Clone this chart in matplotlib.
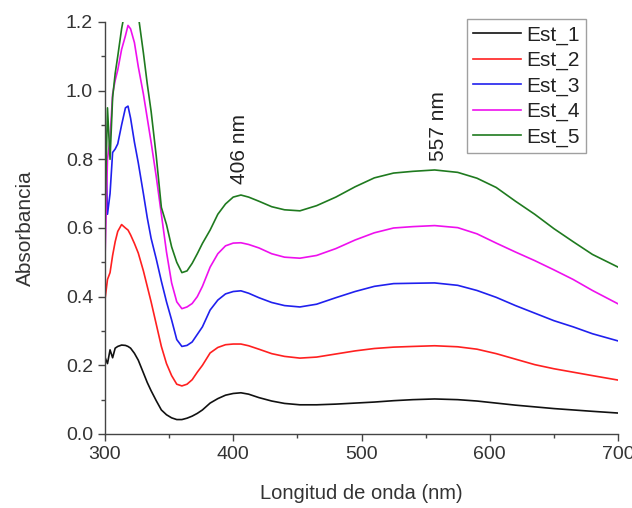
import matplotlib
matplotlib.use('Agg')
import matplotlib.pyplot as plt
from matplotlib.ticker import MultipleLocator

plt.rcParams['font.family'] = ['Liberation Sans', 'DejaVu Sans']

# longitud de onda (nm)
wl = [300, 302, 304, 306, 308, 310, 313, 316, 318, 320, 323, 326, 330, 333, 336,
      340, 344, 348, 352, 356, 360, 364, 368, 372, 376, 382, 388, 394, 400, 406,
      412, 420, 430, 440, 452, 465, 480, 495, 510, 525, 540, 557, 575, 590, 605,
      620, 635, 650, 665, 680, 700]

est_1 = [0.224, 0.205, 0.245, 0.222, 0.25, 0.255, 0.259, 0.258, 0.255, 0.25, 0.235,
         0.215, 0.178, 0.15, 0.126, 0.097, 0.07, 0.056, 0.047, 0.042, 0.042, 0.046,
         0.052, 0.06, 0.07, 0.09, 0.103, 0.113, 0.118, 0.12, 0.116, 0.106, 0.096,
         0.089, 0.085, 0.085, 0.087, 0.09, 0.093, 0.097, 0.1, 0.102, 0.1, 0.096,
         0.09, 0.084, 0.079, 0.074, 0.07, 0.066, 0.061]

est_2 = [0.39, 0.45, 0.47, 0.52, 0.56, 0.59, 0.61, 0.60, 0.594, 0.58, 0.555, 0.527,
         0.475, 0.43, 0.385, 0.32, 0.255, 0.205, 0.17, 0.145, 0.14, 0.145, 0.158,
         0.18, 0.2, 0.236, 0.252, 0.26, 0.262, 0.262, 0.257, 0.247, 0.234, 0.226,
         0.221, 0.224, 0.233, 0.242, 0.249, 0.253, 0.255, 0.257, 0.254, 0.247,
         0.234, 0.218, 0.202, 0.19, 0.18, 0.17, 0.157]

est_3 = [0.93, 0.64, 0.70, 0.82, 0.83, 0.845, 0.90, 0.95, 0.955, 0.92, 0.85, 0.79,
         0.70, 0.63, 0.57, 0.51, 0.445, 0.385, 0.332, 0.275, 0.255, 0.258, 0.268,
         0.29, 0.312, 0.361, 0.39, 0.408, 0.415, 0.417, 0.41, 0.397, 0.383, 0.374,
         0.37, 0.378, 0.397, 0.415, 0.43, 0.438, 0.439, 0.44, 0.433, 0.418, 0.398,
         0.374, 0.352, 0.33, 0.312, 0.292, 0.271]

est_4 = [0.50, 0.80, 0.86, 0.99, 1.03, 1.06, 1.12, 1.16, 1.19, 1.18, 1.14, 1.07,
         0.99, 0.92, 0.85, 0.75, 0.64, 0.53, 0.44, 0.385, 0.365, 0.37, 0.38, 0.40,
         0.43, 0.486, 0.525, 0.548, 0.556, 0.557, 0.552, 0.542, 0.525, 0.515,
         0.512, 0.52, 0.54, 0.565, 0.586, 0.60, 0.604, 0.607, 0.601, 0.583, 0.556,
         0.53, 0.505, 0.478, 0.45, 0.418, 0.379]

est_5 = [0.62, 0.95, 0.80, 0.98, 1.05, 1.10, 1.18, 1.24, 1.28, 1.30, 1.28, 1.22,
         1.11, 1.02, 0.94, 0.81, 0.66, 0.61, 0.545, 0.50, 0.47, 0.475, 0.497,
         0.525, 0.555, 0.594, 0.64, 0.67, 0.69, 0.696, 0.69, 0.678, 0.662, 0.653,
         0.65, 0.665, 0.69, 0.72, 0.746, 0.76, 0.765, 0.769, 0.762, 0.745, 0.718,
         0.678, 0.64, 0.598, 0.56, 0.523, 0.486]

labels = ['Est_1', 'Est_2', 'Est_3', 'Est_4', 'Est_5']
colors = ['#111111', '#ff2020', '#2020ee', '#ee10ee', '#1f7a1f']

fig = plt.figure(figsize=(6.32, 5.08), dpi=100)
ax = fig.add_axes([0.166, 0.1457, 0.812, 0.811])

for y, lab, c in zip([est_1, est_2, est_3, est_4, est_5], labels, colors):
    ax.plot(wl, y, color=c, lw=1.2, label=lab)

ax.set_xlim(300, 700)
ax.set_ylim(0, 1.2)
ax.xaxis.set_major_locator(MultipleLocator(100))
ax.xaxis.set_minor_locator(MultipleLocator(50))
ax.yaxis.set_major_locator(MultipleLocator(0.2))
ax.yaxis.set_minor_locator(MultipleLocator(0.1))
ax.yaxis.set_major_formatter(plt.FormatStrFormatter('%.1f'))

for s in ['top', 'right']:
    ax.spines[s].set_visible(False)
for s in ['left', 'bottom']:
    ax.spines[s].set_color('#444444')
    ax.spines[s].set_linewidth(1.0)

ax.tick_params(which='major', direction='out', length=5, width=1, colors='#444444',
               labelsize=14, labelcolor='#333333')
ax.tick_params(which='minor', direction='out', length=3, width=1, colors='#444444')

ax.set_xlabel('Longitud de onda (nm)', fontsize=14.5, color='#333333', labelpad=15)
ax.set_ylabel('Absorbancia', fontsize=15, color='#333333', labelpad=22)

ax.text(405, 0.83, '406 nm', rotation=90, ha='center', va='center', fontsize=15,
        color='#222222')
ax.text(560, 0.896, '557 nm', rotation=90, ha='center', va='center', fontsize=15,
        color='#222222')

leg = ax.legend(loc='upper left', bbox_to_anchor=(0.706, 1.007), fontsize=15,
                frameon=True, fancybox=False, borderpad=0.3, labelspacing=0.3,
                handlelength=2.3, handletextpad=0.25, borderaxespad=0)
leg.get_frame().set_edgecolor('#888888')
leg.get_frame().set_linewidth(1.0)
for t in leg.get_texts():
    t.set_color('#222222')

fig.savefig('out.png', dpi=100)
